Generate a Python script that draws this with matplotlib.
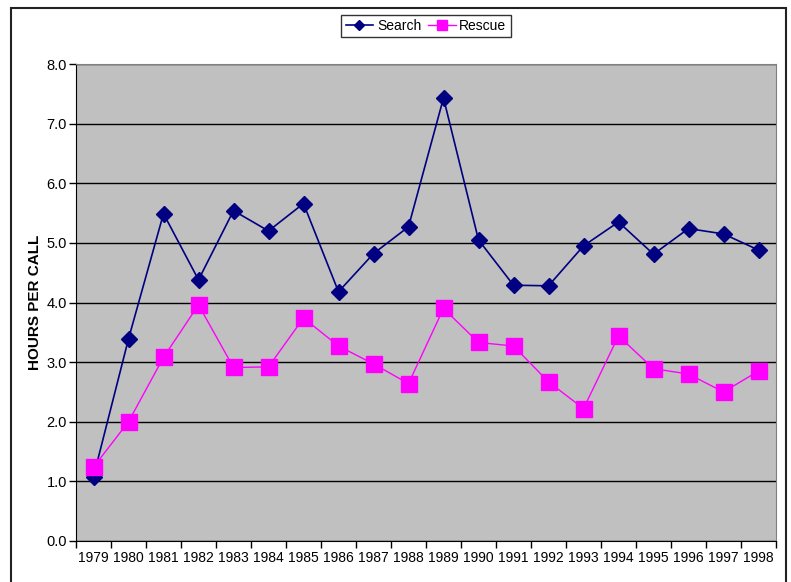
import numpy as np
import matplotlib.pyplot as plt
from matplotlib.patches import Rectangle

plt.rcParams['font.family'] = ['Liberation Sans', 'DejaVu Sans']

# Data
years = [str(y) for y in range(1979, 1999)]
search = [1.08, 3.39, 5.49, 4.38, 5.54, 5.20, 5.66, 4.18, 4.82, 5.27,
          7.43, 5.05, 4.29, 4.28, 4.95, 5.35, 4.81, 5.24, 5.15, 4.88]
rescue = [1.24, 2.00, 3.08, 3.96, 2.91, 2.92, 3.74, 3.27, 2.97, 2.64,
          3.90, 3.33, 3.27, 2.67, 2.22, 3.44, 2.89, 2.80, 2.50, 2.85]

W, H = 791, 582
fig = plt.figure(figsize=(W / 100, H / 100), dpi=100)
ax = fig.add_axes([76 / W, 1 - 541 / H, 700 / W, 477 / H])
ax.set_facecolor('#C0C0C0')

x = np.arange(len(years))
ax.plot(x, search, '-D', color='#000080', lw=1.2, ms=8.5, mec='#000080',
        label='Search', zorder=3)
ax.plot(x, rescue, '-s', color='#FF00FF', lw=1.0, ms=11, mec='#FF00FF',
        label='Rescue', zorder=4)

ax.set_xlim(-0.5, len(years) - 0.5)
ax.set_ylim(0, 8)
ax.set_yticks(np.arange(0, 8.1, 1.0))
ax.set_yticklabels(['%.1f' % v for v in np.arange(0, 8.1, 1.0)])
ax.yaxis.grid(True, color='black', lw=1.0)
ax.set_axisbelow(True)

ax.set_xticks(x)
ax.set_xticklabels(years)
ax.set_xticks(np.arange(-0.5, len(years)), minor=True)
ax.tick_params(axis='x', which='major', length=0, pad=7, labelsize=10)
ax.tick_params(axis='x', which='minor', length=5, width=1, color='black')
ax.tick_params(axis='y', length=5, width=1, pad=1.5, labelsize=10.5)

for s in ['top', 'right']:
    ax.spines[s].set_color('#808080')
for s in ['left', 'bottom']:
    ax.spines[s].set_color('black')

ax.set_ylabel('HOURS PER CALL', fontsize=11, fontweight='bold', labelpad=3)

leg = fig.legend(loc='upper center', bbox_to_anchor=(426 / W, 1 - 12 / H),
                 ncol=2, frameon=True, fancybox=False, fontsize=10,
                 handlelength=2.0, columnspacing=0.5, handletextpad=0.25,
                 borderpad=0.3, borderaxespad=0.2, markerscale=0.6)
leg.get_frame().set_edgecolor('black')
leg.get_frame().set_linewidth(1.0)

# outer chart frame (bottom edge runs past the image)
fig.patches.append(Rectangle((11 / W, -0.05), (786 - 11) / W, 1.05 - 8 / H,
                             transform=fig.transFigure, fill=False,
                             edgecolor='#222222', lw=1.5))

fig.savefig('out.png', dpi=100)
